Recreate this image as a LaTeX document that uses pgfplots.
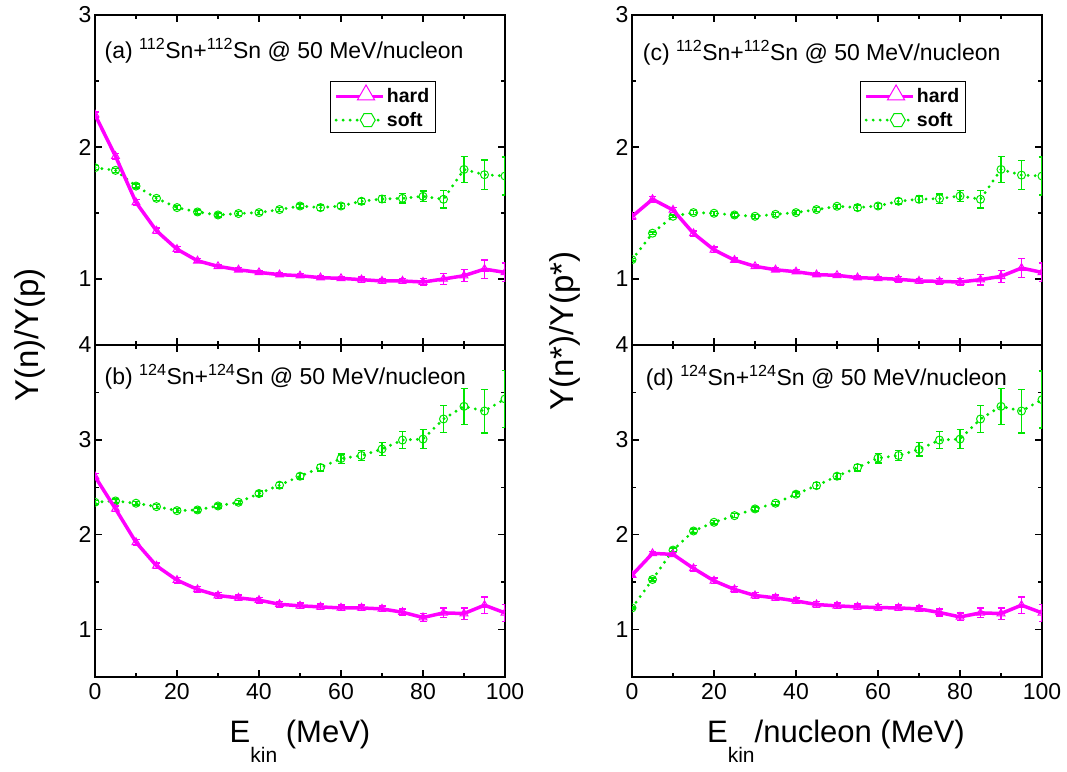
\documentclass[border=0pt]{standalone}
\usepackage{fontspec}
\setmainfont{Liberation Sans}
\usepackage{pgfplots}
\pgfplotsset{compat=1.18}
\usepackage{pgfplotstable}
\usetikzlibrary{shapes.geometric}

\definecolor{hardc}{RGB}{255,0,255}
\definecolor{softc}{RGB}{0,230,0}

\pgfplotstableread{
x y e
0 2.245 0.02
5 1.93 0.02
10 1.58 0.02
15 1.365 0.02
20 1.226 0.02
25 1.138 0.015
30 1.096 0.015
35 1.07 0.015
40 1.05 0.015
45 1.033 0.015
50 1.025 0.015
55 1.01 0.015
60 1.005 0.015
65 0.995 0.02
70 0.985 0.02
75 0.985 0.02
80 0.977 0.025
85 1.0 0.04
90 1.025 0.045
95 1.075 0.07
100 1.05 0.07
}\hardA
\pgfplotstableread{
x y e
0 1.843 0.015
5 1.823 0.015
10 1.704 0.015
15 1.611 0.015
20 1.541 0.015
25 1.508 0.015
30 1.485 0.015
35 1.496 0.015
40 1.503 0.015
45 1.526 0.015
50 1.553 0.015
55 1.541 0.02
60 1.553 0.02
65 1.589 0.02
70 1.606 0.025
75 1.611 0.035
80 1.626 0.04
85 1.604 0.065
90 1.83 0.1
95 1.79 0.11
100 1.78 0.145
}\softA
\pgfplotstableread{
x y e
0 2.613 0.03
5 2.272 0.03
10 1.92 0.03
15 1.672 0.03
20 1.521 0.03
25 1.423 0.03
30 1.359 0.03
35 1.334 0.03
40 1.31 0.03
45 1.267 0.03
50 1.25 0.03
55 1.239 0.03
60 1.228 0.03
65 1.228 0.03
70 1.218 0.03
75 1.183 0.035
80 1.127 0.04
85 1.176 0.05
90 1.169 0.06
95 1.257 0.085
100 1.176 0.09
}\hardB
\pgfplotstableread{
x y e
0 2.342 0.02
5 2.356 0.02
10 2.332 0.02
15 2.296 0.02
20 2.254 0.02
25 2.261 0.02
30 2.303 0.02
35 2.342 0.02
40 2.434 0.025
45 2.522 0.03
50 2.617 0.03
55 2.708 0.035
60 2.803 0.05
65 2.835 0.055
70 2.903 0.07
75 2.998 0.09
80 3.008 0.1
85 3.22 0.14
90 3.353 0.19
95 3.304 0.23
100 3.431 0.3
}\softB
\pgfplotstableread{
x y e
0 1.473 0.02
5 1.604 0.02
10 1.523 0.02
15 1.345 0.02
20 1.221 0.02
25 1.143 0.015
30 1.096 0.015
35 1.07 0.015
40 1.055 0.015
45 1.033 0.015
50 1.028 0.015
55 1.01 0.015
60 1.005 0.015
65 0.998 0.02
70 0.985 0.02
75 0.982 0.02
80 0.977 0.025
85 0.995 0.04
90 1.02 0.045
95 1.083 0.07
100 1.05 0.07
}\hardC
\pgfplotstableread{
x y e
0 1.146 0.01
5 1.347 0.01
10 1.475 0.01
15 1.503 0.015
20 1.498 0.015
25 1.485 0.015
30 1.475 0.015
35 1.49 0.015
40 1.503 0.015
45 1.526 0.015
50 1.551 0.015
55 1.541 0.02
60 1.553 0.02
65 1.589 0.02
70 1.604 0.025
75 1.609 0.035
80 1.629 0.04
85 1.604 0.065
90 1.83 0.1
95 1.787 0.11
100 1.78 0.145
}\softC
\pgfplotstableread{
x y e
0 1.574 0.02
5 1.803 0.02
10 1.793 0.02
15 1.645 0.03
20 1.514 0.03
25 1.423 0.03
30 1.359 0.03
35 1.334 0.03
40 1.302 0.03
45 1.264 0.03
50 1.25 0.03
55 1.239 0.03
60 1.232 0.03
65 1.228 0.03
70 1.218 0.03
75 1.18 0.035
80 1.133 0.04
85 1.176 0.05
90 1.169 0.06
95 1.257 0.085
100 1.176 0.09
}\hardD
\pgfplotstableread{
x y e
0 1.228 0.01
5 1.528 0.015
10 1.838 0.02
15 2.039 0.02
20 2.131 0.02
25 2.201 0.02
30 2.272 0.02
35 2.332 0.02
40 2.427 0.025
45 2.518 0.03
50 2.617 0.03
55 2.708 0.035
60 2.808 0.05
65 2.835 0.055
70 2.899 0.07
75 2.998 0.09
80 3.008 0.1
85 3.22 0.14
90 3.353 0.19
95 3.304 0.23
100 3.424 0.3
}\softD

\pgfplotsset{
  panel/.style={
    scale only axis, width=410bp, anchor=south west,
    xmin=0, xmax=100, xtick={0,20,...,100}, minor x tick num=1,
    minor y tick num=1,
    tick align=inside, major tick length=7bp, minor tick length=4bp,
    axis line style={line width=1.6bp},
    every tick/.style={black, line width=1.4bp},
    tick label style={font=\fontsize{23bp}{23bp}\selectfont},
    xticklabel style={yshift=-3bp},
    /pgf/number format/assume math mode=true,
    clip marker paths=true,
    legend cell align=left,
    reverse legend,
    legend style={draw=black, line width=1bp, fill=white,
      font=\fontsize{19.5bp}{22bp}\selectfont\bfseries,
      inner xsep=4bp, inner ysep=3bp, row sep=4bp,
      anchor=north west},
  },
  toppanel/.style={panel, height=330bp, ymin=0.5, ymax=3, ytick={1,2,3}, xticklabels={}},
  botpanel/.style={panel, height=332bp, ymin=0.5, ymax=4, ytick={1,2,3,4}},
  hardleg/.style={legend image code/.code={
    \draw[hardc, line width=3.5bp, solid] (0bp,0bp) -- (47bp,0bp);
    \node[regular polygon, regular polygon sides=3, draw=hardc, fill=white, solid, line width=1bp, minimum size=20bp, inner sep=0pt] at (23.5bp,1.5bp) {};}},
  softleg/.style={legend image code/.code={
    \draw[softc, line width=3.2bp, dash pattern=on 0bp off 7bp, line cap=round] (0bp,0bp) -- (47bp,0bp);
    \node[regular polygon, regular polygon sides=6, draw=softc, fill=white, solid, line width=1bp, minimum size=15bp, inner sep=0pt] at (23.5bp,0bp) {};}},
  hardp/.style={color=hardc, line width=3.5bp, mark=triangle, mark size=4.5bp,
    mark options={solid, line width=1bp, fill=none, draw=hardc},
    error bars/.cd, y dir=both, y explicit,
    error bar style={solid, line width=1.4bp, draw=hardc, color=hardc},
    error mark options={rotate=90, mark size=3.5bp, line width=1.4bp, draw=hardc, color=hardc}},
  softp/.style={color=softc, line width=3.2bp, dash pattern=on 0bp off 7bp, line cap=round,
    mark=o, mark size=4bp,
    mark options={solid, line width=1bp, fill=none, draw=softc},
    error bars/.cd, y dir=both, y explicit,
    error bar style={solid, line width=1.4bp, line cap=butt, draw=softc, color=softc},
    error mark options={rotate=90, mark size=3.5bp, line width=1.4bp, draw=softc, color=softc}},
}

\newcommand{\ttl}[2]{#1 \textsuperscript{#2}Sn+\textsuperscript{#2}Sn @ 50 MeV/nucleon}

\begin{document}
\begin{tikzpicture}
\useasboundingbox (0,0) rectangle (1067bp,772bp);

% (a)
\begin{axis}[toppanel, at={(95bp,427bp)}, legend style={at={(0.573,0.8)}}]
\addplot[softleg, softp] table[x=x, y=y, y error=e] {\softA};
\addlegendentry{soft}
\addplot[hardleg, hardp] table[x=x, y=y, y error=e] {\hardA};
\addlegendentry{hard}
\node[anchor=west, font=\fontsize{23bp}{23bp}\selectfont] at (rel axis cs:0.015,0.893) {\ttl{(a)}{112}};
\end{axis}

% (b)
\begin{axis}[botpanel, at={(95bp,95bp)}]
\addplot[softp] table[x=x, y=y, y error=e] {\softB};
\addplot[hardp] table[x=x, y=y, y error=e] {\hardB};
\node[anchor=west, font=\fontsize{23bp}{23bp}\selectfont] at (rel axis cs:0.015,0.905) {\ttl{(b)}{124}};
\end{axis}

% (c)
\begin{axis}[toppanel, at={(632bp,427bp)}, legend style={at={(0.556,0.8)}}]
\addplot[softleg, softp] table[x=x, y=y, y error=e] {\softC};
\addlegendentry{soft}
\addplot[hardleg, hardp] table[x=x, y=y, y error=e] {\hardC};
\addlegendentry{hard}
\node[anchor=west, font=\fontsize{23bp}{23bp}\selectfont] at (rel axis cs:0.018,0.885) {\ttl{(c)}{112}};
\end{axis}

% (d)
\begin{axis}[botpanel, at={(632bp,95bp)}]
\addplot[softp] table[x=x, y=y, y error=e] {\softD};
\addplot[hardp] table[x=x, y=y, y error=e] {\hardD};
\node[anchor=west, font=\fontsize{23bp}{23bp}\selectfont] at (rel axis cs:0.025,0.9) {\ttl{(d)}{124}};
\end{axis}

% axis labels
\node[rotate=90, font=\fontsize{33bp}{33bp}\selectfont] at (30bp,437bp) {Y(n)/Y(p)};
\node[rotate=90, font=\fontsize{33bp}{33bp}\selectfont] at (565bp,441bp) {Y(n*)/Y(p*)};
\node[anchor=base, font=\fontsize{31bp}{31bp}\selectfont] at (300bp,30bp) {E\raisebox{-20bp}{\fontsize{21bp}{21bp}\selectfont kin} (MeV)};
\node[anchor=base, font=\fontsize{31bp}{31bp}\selectfont] at (836bp,30bp) {E\raisebox{-20bp}{\fontsize{21bp}{21bp}\selectfont kin}/nucleon (MeV)};
\end{tikzpicture}
\end{document}
